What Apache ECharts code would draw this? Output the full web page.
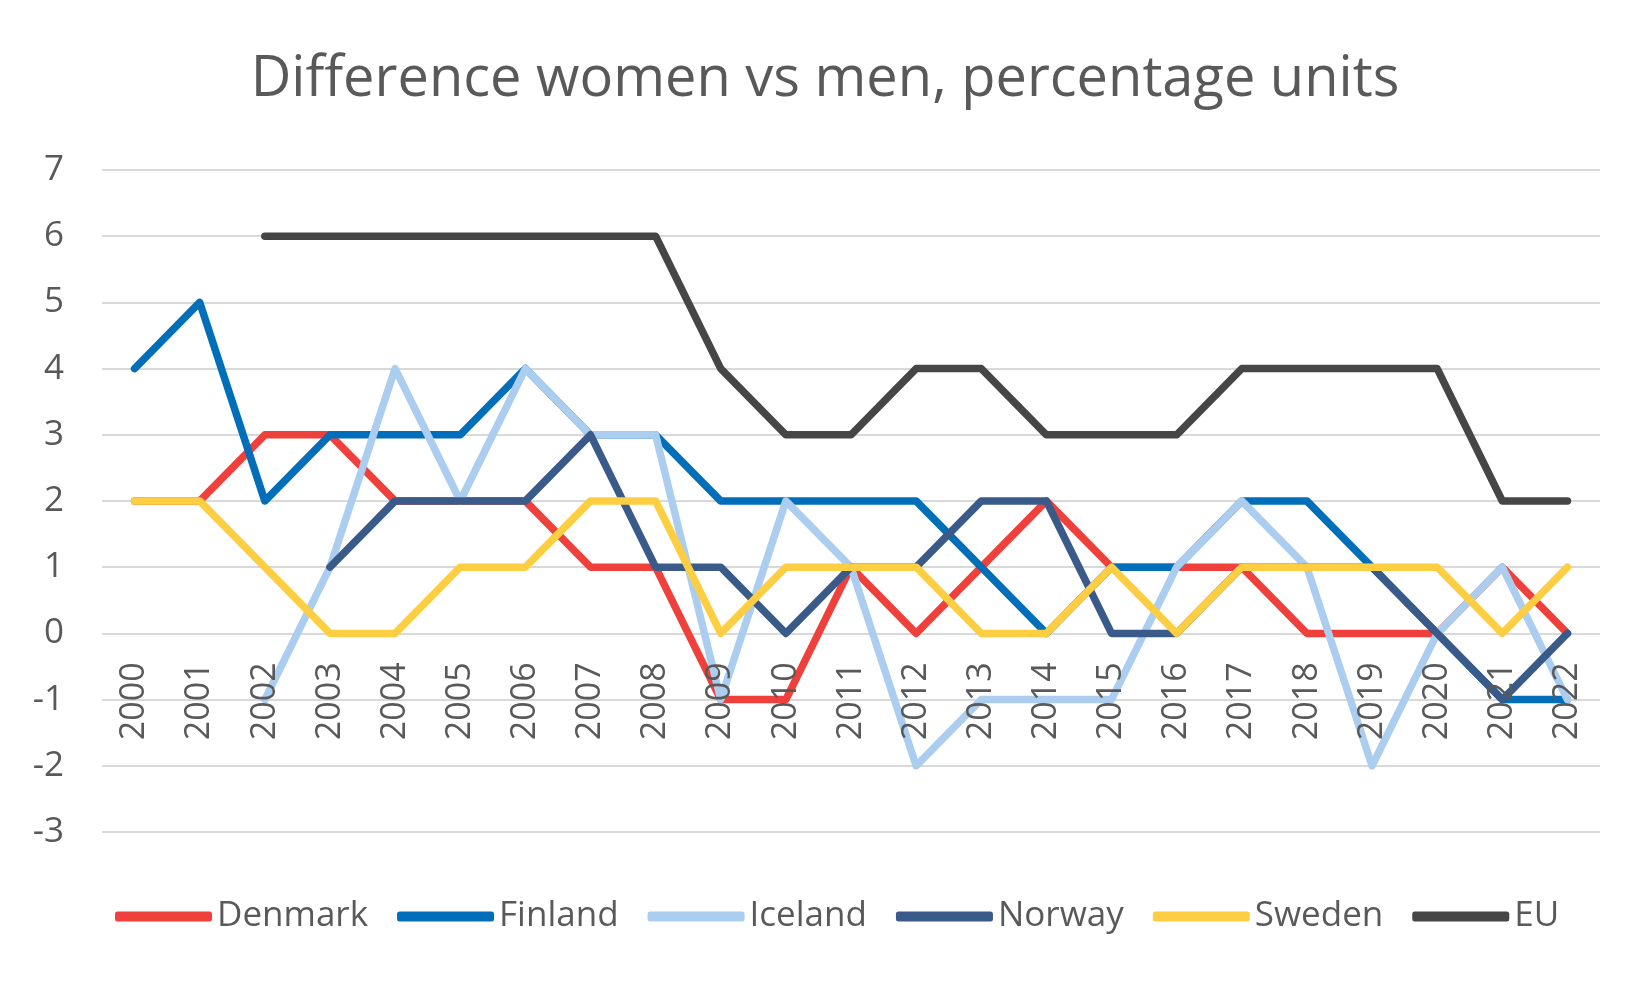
<!DOCTYPE html>
<html>
<head>
<meta charset="utf-8">
<script src="https://cdn.jsdelivr.net/npm/echarts@6/dist/echarts.min.js"></script>
<style>html,body{margin:0;padding:0;background:#fff}#c{width:1650px;height:988px}</style>
</head>
<body>
<div id="c"></div>
<script>
const years = ['2000','2001','2002','2003','2004','2005','2006','2007','2008','2009','2010','2011','2012','2013','2014','2015','2016','2017','2018','2019','2020','2021','2022'];
const denmark = [2,2,3,3,2,2,2,1,1,-1,-1,1,0,1,2,1,1,1,0,0,0,1,0];
const finland = [4,5,2,3,3,3,4,3,3,2,2,2,2,1,0,1,1,2,2,1,0,-1,-1];
const iceland = [null,null,-1,1,4,2,4,3,3,-1,2,1,-2,-1,-1,-1,1,2,1,-2,0,1,-1];
const norway = [null,null,null,1,2,2,2,3,1,1,0,1,1,2,2,0,0,1,1,1,0,-1,0];
const sweden = [2,2,1,0,0,1,1,2,2,0,1,1,1,0,0,1,0,1,1,1,1,0,1];
const eu = [null,null,6,6,6,6,6,6,6,4,3,3,4,4,3,3,3,4,4,4,4,2,2];
const yTicks = [-3,7,1];

const font = 'Open Sans, Noto Sans, sans-serif';
const gridTop = 170, gridBottom = 156;
const plotH = 988 - gridTop - gridBottom;
const zeroOffset = -plotH * (0 - yTicks[0]) / (yTicks[1] - yTicks[0]);

function s(name, data, color) {
  return {name, type:'line', data, symbol:'none', connectNulls:false,
    lineStyle:{width:7.5, color, cap:'round', join:'round'}, itemStyle:{color}};
}
const chart = echarts.init(document.getElementById('c'));
chart.setOption({
  animation:false,
  title:{text:'Difference women vs men, percentage units', left:'center', top:47,
    textStyle:{fontFamily:font, fontSize:56, fontWeight:'normal', color:'#595959'}},
  grid:{left:102, right:50, top:gridTop, bottom:gridBottom},
  legend:{bottom:49, left:110, icon:'roundRect', itemWidth:97, itemHeight:10, itemGap:29,
    textStyle:{fontFamily:font, fontSize:35, color:'#595959'}},
  xAxis:{type:'category', data:years, boundaryGap:true, position:'bottom', offset:zeroOffset, z:10,
    axisLine:{show:false, onZero:false},
    axisTick:{show:false},
    axisLabel:{rotate:90, margin:29, fontFamily:font, fontSize:34, color:'#595959', interval:0}},
  yAxis:{type:'value', min:yTicks[0], max:yTicks[1], interval:yTicks[2],
    axisLine:{show:false}, axisTick:{show:false},
    splitLine:{lineStyle:{color:'#d9d9d9', width:2}},
    axisLabel:{margin:38, fontFamily:font, fontSize:35, color:'#595959'}},
  series:[
    s('Denmark', denmark, '#F0403C'),
    s('Finland', finland, '#006EB8'),
    s('Iceland', iceland, '#ABCEF0'),
    s('Norway', norway, '#3A5A8A'),
    s('Sweden', sweden, '#FECE42'),
    s('EU', eu, '#464646')
  ]
});
</script>
</body>
</html>
